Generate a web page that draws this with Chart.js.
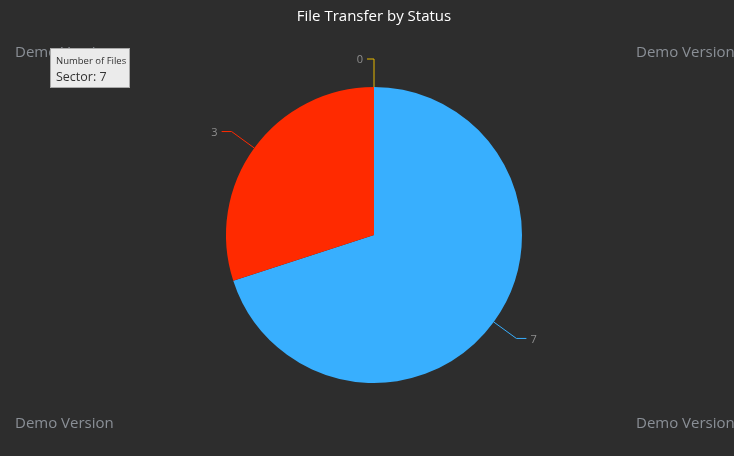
<!DOCTYPE html>
<html><head><meta charset="utf-8">
<script src="https://cdn.jsdelivr.net/npm/chart.js@4/dist/chart.umd.min.js"></script>
<style>html,body{margin:0;padding:0;background:#2d2d2d;}#wrap{width:734px;height:456px;}</style>
</head><body><div id="wrap"><canvas id="c" width="734" height="456"></canvas></div>
<script>
const categories = ["Completed", "Failed", "In Progress"];
const fileCounts = [7, 3, 0];
const sliceColors = ["#38AFFE", "#FF2A00", "#E6B800"];
const chartTitle = "File Transfer by Status";
const seriesName = "Number of Files";
const watermark = "Demo Version";

const FONT = "'Open Sans', 'Noto Sans', sans-serif";

const leaderLabels = {
  id: 'leaderLabels',
  afterDatasetsDraw(chart) {
    const ctx = chart.ctx;
    const meta = chart.getDatasetMeta(0);
    ctx.save();
    meta.data.forEach((arc, i) => {
      const p = arc.getProps(['x','y','startAngle','endAngle','outerRadius'], true);
      const mid = (p.startAngle + p.endAngle) / 2;
      const cos = Math.cos(mid), sin = Math.sin(mid);
      const x0 = p.x + cos * p.outerRadius, y0 = p.y + sin * p.outerRadius;
      const x1 = p.x + cos * (p.outerRadius + 28), y1 = p.y + sin * (p.outerRadius + 28);
      const dir = cos >= 1e-9 ? 1 : -1;
      const len = Math.abs(cos) < 0.05 ? 7 : 10;
      const x2 = x1 + dir * len;
      ctx.strokeStyle = sliceColors[i];
      ctx.lineWidth = 1;
      ctx.beginPath(); ctx.moveTo(x0, y0); ctx.lineTo(x1, y1); ctx.lineTo(x2, y1); ctx.stroke();
      ctx.fillStyle = '#8f8f8f';
      ctx.font = '11px ' + FONT;
      ctx.textBaseline = 'middle';
      ctx.textAlign = dir > 0 ? 'left' : 'right';
      ctx.fillText(String(fileCounts[i]), x2 + dir * 4, y1 + 1);
    });
    ctx.restore();
  },
  afterDraw(chart) {
    const ctx = chart.ctx;
    ctx.save();
    ctx.font = '15px ' + FONT;
    ctx.fillStyle = '#8a8f96';
    ctx.textBaseline = 'middle';
    ctx.textAlign = 'left';
    ctx.fillText(watermark, 15, 53);
    ctx.fillText(watermark, 636, 53);
    ctx.fillText(watermark, 15, 424);
    ctx.fillText(watermark, 636, 424);
    // static tooltip
    ctx.fillStyle = '#ebebeb';
    ctx.fillRect(50.5, 48.5, 79, 39);
    ctx.strokeStyle = '#a8a8a8';
    ctx.lineWidth = 1;
    ctx.strokeRect(50.5, 48.5, 79, 39);
    ctx.fillStyle = '#333';
    ctx.font = '9.5px ' + FONT;
    ctx.fillText(seriesName, 56, 61);
    ctx.font = '12.5px ' + FONT;
    ctx.fillText('Sector: ' + fileCounts[0], 56, 77);
    ctx.restore();
  }
};

new Chart(document.getElementById('c'), {
  type: 'pie',
  data: {
    labels: categories,
    datasets: [{ label: seriesName, data: fileCounts, backgroundColor: sliceColors, borderWidth: 0 }]
  },
  options: {
    responsive: false,
    animation: false,
    layout: { padding: { top: 0, bottom: 73, left: 14, right: 0 } },
    plugins: {
      legend: { display: false },
      tooltip: { enabled: false },
      title: { display: true, text: chartTitle, color: '#ffffff', font: { family: FONT, size: 15, weight: 'normal' }, padding: { top: 8, bottom: 61 } }
    }
  },
  plugins: [leaderLabels]
});
</script></body></html>
